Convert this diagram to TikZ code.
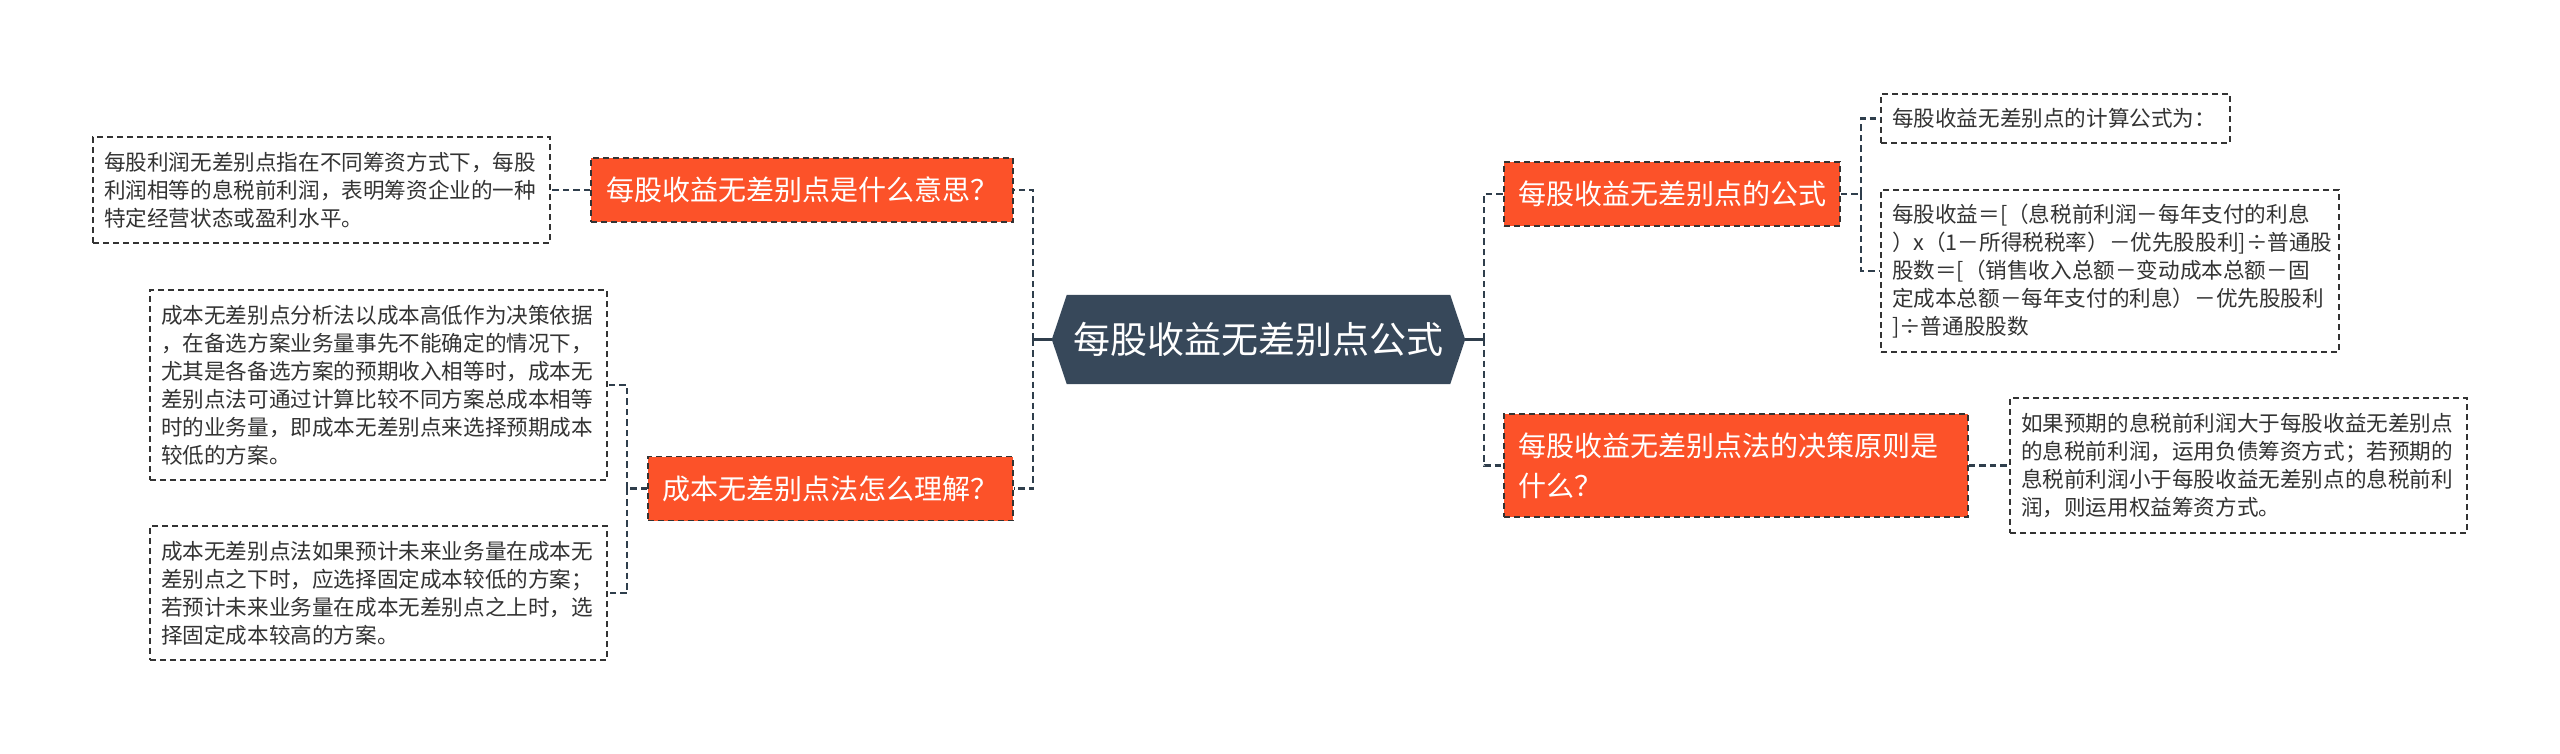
\documentclass[tikz,border=0pt]{standalone}
\usepackage{fontspec}
\newfontfamily\cjk{Noto Sans CJK SC}
\usetikzlibrary{backgrounds}
\definecolor{orng}{HTML}{FC5229}
\definecolor{slate}{HTML}{37485A}
\definecolor{ink}{HTML}{333333}
\definecolor{lnk}{HTML}{2F3E4C}
\begin{document}
\begin{tikzpicture}[x=1pt,y=-1pt,
  topic/.style={fill=orng, draw=ink, dash pattern=on 6pt off 4pt, line width=1.7pt, text=white, font=\cjk\fontsize{28}{40}\selectfont, inner xsep=14pt, inner ysep=0pt},
  note/.style={fill=white, draw=ink, dash pattern=on 6pt off 4pt, line width=1.7pt, text=ink, font=\cjk\fontsize{21.6}{28}\selectfont, align=left, inner xsep=11pt, inner ysep=0pt},
  conn/.style={draw=lnk, line width=2.6pt, dash pattern=on 6.5pt off 4pt},
  stub/.style={draw=lnk, line width=2.2pt}]
\useasboundingbox (0,0) rectangle (2560,754);

% central
\node (c) at (1258.5,339.5) [text=white, font=\cjk\fontsize{37}{44}\selectfont, minimum width=413pt, minimum height=89pt, inner sep=0pt] {每股收益无差别点公式};
\begin{scope}[on background layer]
\fill[slate] (c.west) -- ([xshift=15pt]c.north west) -- ([xshift=-15pt]c.north east) -- (c.east) -- ([xshift=-15pt]c.south east) -- ([xshift=15pt]c.south west) -- cycle;
\end{scope}

% topics
\node (t1) at (802,190) [topic, minimum width=422pt, minimum height=64pt] {每股收益无差别点是什么意思？};
\node (t2) at (830.5,488.5) [topic, minimum width=365pt, minimum height=64pt] {成本无差别点法怎么理解？};
\node (r1) at (1672,194) [topic, minimum width=336pt, minimum height=64pt] {每股收益无差别点的公式};
\node (r2) at (1736,465.5) [topic, text width=436pt, align=left, minimum height=103pt] {每股收益无差别点法的决策原则是\\什么？};

% notes
\node (l1) at (321.5,190) [note, text width=435pt, minimum height=106pt] {每股利润无差别点指在不同筹资方式下，每股\\利润相等的息税前利润，表明筹资企业的一种\\特定经营状态或盈利水平。};
\node (l2a) at (378.5,385) [note, text width=435pt, minimum height=190pt] {成本无差别点分析法以成本高低作为决策依据\\，在备选方案业务量事先不能确定的情况下，\\尤其是各备选方案的预期收入相等时，成本无\\差别点法可通过计算比较不同方案总成本相等\\时的业务量，即成本无差别点来选择预期成本\\较低的方案。};
\node (l2b) at (378.5,593) [note, text width=435pt, minimum height=134pt] {成本无差别点法如果预计未来业务量在成本无\\差别点之下时，应选择固定成本较低的方案；\\若预计未来业务量在成本无差别点之上时，选\\择固定成本较高的方案。};
\node (r1a) at (2055.5,118.5) [note, text width=327pt, minimum height=49pt] {每股收益无差别点的计算公式为：};
\node (r1b) at (2110,271) [note, text width=436pt, minimum height=162pt] {每股收益＝[（息税前利润－每年支付的利息\\）x（1－所得税税率）－优先股股利]÷普通股\\股数＝[（销售收入总额－变动成本总额－固\\定成本总额－每年支付的利息）－优先股股利\\]÷普通股股数};
\node (r2n) at (2238.5,465.5) [note, text width=435pt, minimum height=135pt] {如果预期的息税前利润大于每股收益无差别点\\的息税前利润，运用负债筹资方式；若预期的\\息税前利润小于每股收益无差别点的息税前利\\润，则运用权益筹资方式。};

% connectors
\coordinate (jl) at (1033,339.5);
\coordinate (jr) at (1484,339.5);
\draw[stub] (c.west) -- (jl);
\draw[stub] (c.east) -- (jr);
\draw[conn] (jl) |- (t1.east);
\draw[conn] (jl) |- (t2.east);
\draw[conn] (jr) |- (r1.west);
\draw[conn] (jr) |- (r2.west);

\draw[conn] (t1.west) -- (t1.west -| l1.east);

\coordinate (jl2) at (627,488.5);
\draw[conn] (t2.west) -- (jl2);
\draw[conn] (jl2) |- (l2a.east);
\draw[conn] (jl2) |- (l2b.east);

\coordinate (jr1) at (1861,194);
\draw[conn] (r1.east) -- (jr1);
\draw[conn] (jr1) |- (r1a.west);
\draw[conn] (jr1) |- (r1b.west);

\draw[conn] (r2.east) -- (r2.east -| r2n.west);
\end{tikzpicture}
\end{document}
